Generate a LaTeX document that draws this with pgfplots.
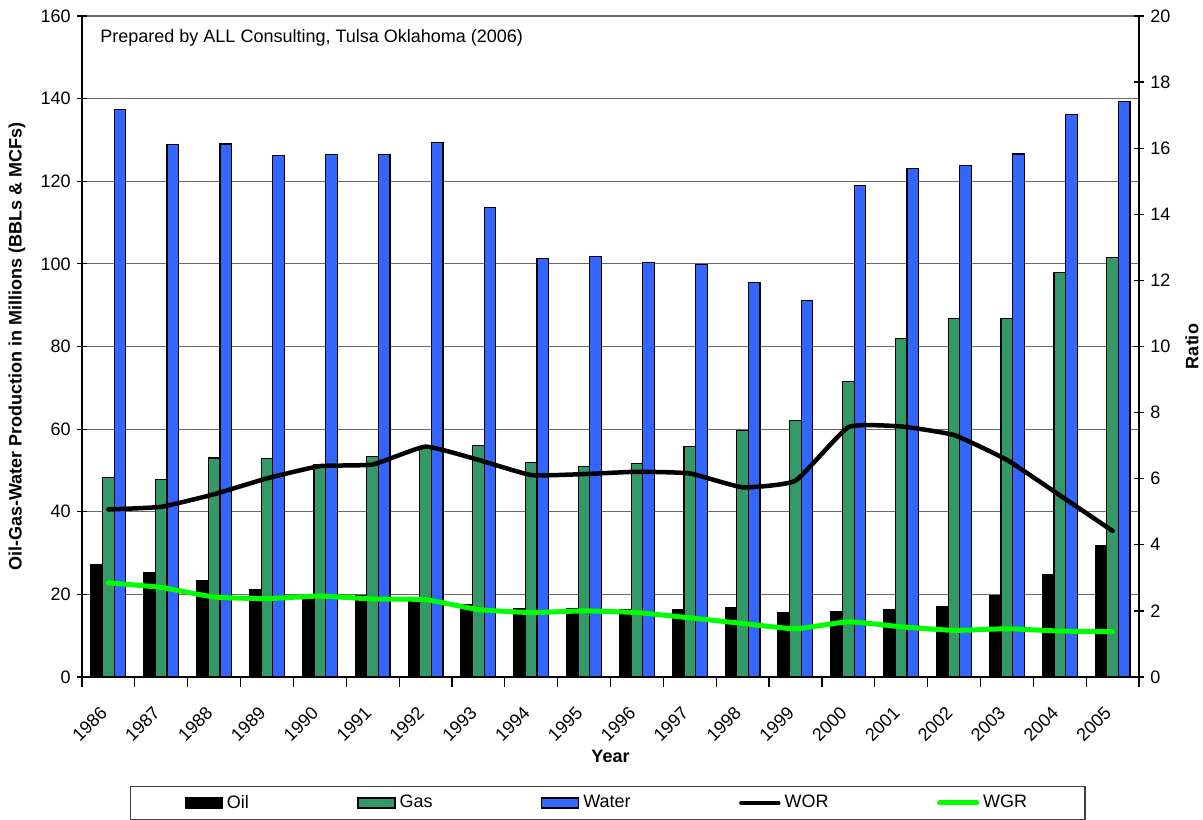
\documentclass[border=0pt]{standalone}
\usepackage{fontspec}
\setmainfont{Liberation Sans}
\usepackage{pgfplots}
\usepackage{pgfplotstable}
\pgfplotsset{compat=1.18}

\definecolor{gasgreen}{RGB}{51,153,102}
\definecolor{waterblue}{RGB}{51,102,255}
\definecolor{wgrgreen}{RGB}{0,255,0}
\definecolor{gridgray}{RGB}{105,105,105}

% Annual production (millions of BBLs / MCFs) and the two ratios
\pgfplotstableread{
x  oil   gas    water  wor   wgr
0  27.2  48.2   137.3  5.07  2.85
1  25.2  47.8   128.8  5.15  2.71
2  23.4  53.0   129.0  5.53  2.42
3  21.1  52.8   126.2  6.01  2.37
4  19.8  51.3   126.4  6.38  2.45
5  19.7  53.3   126.4  6.43  2.36
6  18.6  55.5   129.4  6.97  2.34
7  17.5  56.1   113.7  6.57  2.04
8  16.6  52.0   101.3  6.11  1.95
9  16.6  50.9   101.7  6.14  2.00
10 16.2  51.7   100.4  6.21  1.95
11 16.2  55.8    99.8  6.16  1.79
12 16.7  59.6    95.5  5.74  1.62
13 15.5  62.1    91.1  5.94  1.46
14 15.8  71.5   119.0  7.56  1.67
15 16.3  81.9   123.1  7.58  1.52
16 17.1  86.8   123.8  7.32  1.41
17 19.6  86.8   126.6  6.57  1.46
18 24.9  98.0   136.1  5.50  1.39
19 31.7  101.6  139.4  4.42  1.37
}\prod

\pgfplotsset{
  barleg/.style={legend image code/.code={\draw[##1, line width=0.6pt] (0pt,-2.5pt) rectangle (18.5pt,2.5pt);}},
  lineleg/.style={legend image code/.code={\draw[##1] (0pt,0pt) -- (18.5pt,0pt);}},
  common/.style={
    at={(0pt,0pt)}, anchor=south west,
    scale only axis, width=528.5pt, height=330.5pt,
    xmin=-0.5, xmax=19.5,
    tick align=center, major tick length=5pt, minor tick length=5pt,
    tick style={black, line width=0.6pt},
    axis line style={black, line width=0.8pt, -},
    /pgf/number format/assume math mode=true,
    ticklabel style={font=\fontsize{9}{11}\selectfont},
    label style={font=\fontsize{9}{11}\selectfont\bfseries},
  },
}

\begin{document}
\fontsize{9}{11}\selectfont
\begin{tikzpicture}
\useasboundingbox (-41pt,-71pt) rectangle (560.5pt,338.5pt);

% production bars on the left axis
\begin{axis}[
  common,
  ymin=0, ymax=160,
  ybar=0pt, bar width=5.8pt,
  axis x line*=bottom, axis y line*=left,
  xtick={0,...,19},
  xticklabels={1986,1987,1988,1989,1990,1991,1992,1993,1994,1995,1996,1997,1998,1999,2000,2001,2002,2003,2004,2005},
  major x tick style={draw=none},
  minor xtick={-0.5,0.5,...,19.5},
  ytick={0,20,...,160},
  ymajorgrids, grid style={gridgray, line width=0.6pt},
  xticklabel style={xshift=-4.6pt, yshift=-4.6pt, rotate=45, anchor=north east},
  ylabel={Oil-Gas-Water Production in Millions (BBLs \& MCFs)},
  ylabel style={at={(axis description cs:-0.0615,0.5)}, anchor=center},
  xlabel={Year},
  xlabel style={at={(axis description cs:0.5,-0.1195)}, anchor=center},
]
\addplot[fill=black, draw=black, line width=0.6pt] table[x=x, y=oil] {\prod};
\addplot[fill=gasgreen, draw=black, line width=0.6pt] table[x=x, y=gas] {\prod};
\addplot[fill=waterblue, draw=black, line width=0.6pt] table[x=x, y=water] {\prod};
\node[anchor=west, font=\fontsize{9}{11}\selectfont] at (axis description cs:0.0114,0.967)
  {Prepared by ALL Consulting, Tulsa Oklahoma (2006)};
\end{axis}

% ratios on the right axis
\begin{axis}[
  common,
  ymin=0, ymax=20,
  axis x line=none, axis y line*=right,
  ytick={0,2,...,20},
  ylabel={Ratio},
  ylabel style={at={(axis description cs:1.05,0.5)}, anchor=center},
  legend columns=5,
  legend cell align=left,
  legend style={
    at={(axis description cs:0.4975,-0.1906)}, anchor=center,
    draw=black!75, line width=0.6pt, fill=white,
    inner xsep=27pt, inner ysep=3.5pt,
    /tikz/every even column/.style={column sep=52.25pt},
    nodes={inner xsep=2pt, inner ysep=1pt, font=\fontsize{9}{11}\selectfont},
  },
]
\addlegendimage{barleg, fill=black, draw=black}
\addlegendentry{Oil}
\addlegendimage{barleg, fill=gasgreen, draw=black}
\addlegendentry{Gas}
\addlegendimage{barleg, fill=waterblue, draw=black}
\addlegendentry{Water}
\addplot[lineleg, black, line width=2.25pt, smooth, tension=0.25, line cap=round, line join=round]
  table[x=x, y=wor] {\prod};
\addlegendentry{WOR}
\addplot[lineleg, wgrgreen, line width=2.5pt, smooth, tension=0.25, line cap=round, line join=round]
  table[x=x, y=wgr] {\prod};
\addlegendentry{WGR}
\end{axis}
\end{tikzpicture}
\end{document}
